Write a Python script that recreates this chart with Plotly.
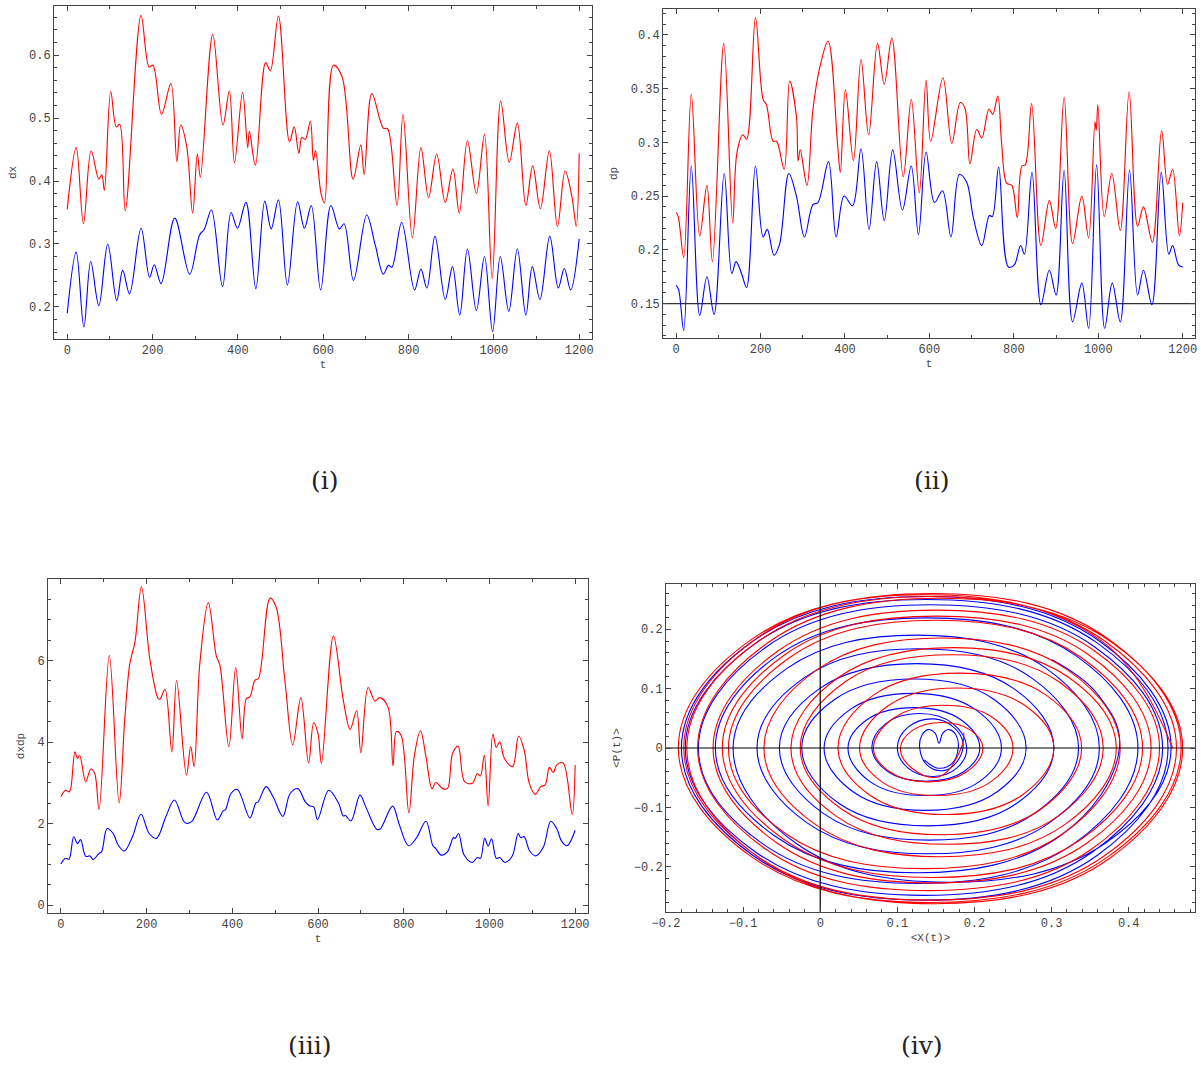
import plotly.graph_objects as go

W, H = 1201, 1066

# ---------------- data: panel (i) dx ----------------
t_dx_red = [0, 21, 38, 56, 74, 81, 87, 102, 115, 123, 136, 173, 192, 201, 221, 243, 257, 266, 280, 294,
            305, 312, 341, 365, 380, 392, 411, 423, 427, 441, 465, 476, 495, 521, 532, 543, 550, 558, 570,
            577, 582, 595, 603, 624, 644, 670, 688, 696, 714, 741, 751, 773, 787, 809, 829, 847, 866, 886,
            904, 919, 938, 959, 978, 996, 1016, 1036, 1055, 1075, 1091, 1109, 1130, 1149, 1167, 1183, 1193, 1200]
dx_red = [0.355, 0.453, 0.332, 0.448, 0.403, 0.410, 0.385, 0.542, 0.486, 0.490, 0.353, 0.663, 0.581, 0.584,
          0.506, 0.555, 0.431, 0.489, 0.455, 0.349, 0.443, 0.406, 0.633, 0.489, 0.543, 0.429, 0.541, 0.453,
          0.479, 0.425, 0.588, 0.575, 0.662, 0.462, 0.486, 0.444, 0.469, 0.466, 0.495, 0.433, 0.448, 0.380,
          0.365, 0.584, 0.566, 0.403, 0.457, 0.410, 0.539, 0.484, 0.483, 0.361, 0.506, 0.310, 0.453, 0.374,
          0.443, 0.366, 0.419, 0.349, 0.464, 0.380, 0.474, 0.245, 0.527, 0.430, 0.492, 0.361, 0.424, 0.356,
          0.448, 0.328, 0.416, 0.375, 0.328, 0.444]
t_dx_blue = [0, 21, 39, 55, 74, 95, 116, 130, 146, 173, 193, 204, 220, 252, 287, 310, 321, 338, 364, 384,
             399, 419, 442, 463, 478, 495, 516, 540, 556, 572, 594, 618, 638, 649, 671, 702, 722, 741, 753,
             761, 784, 814, 829, 843, 862, 886, 903, 920, 938, 959, 978, 997, 1015, 1035, 1055, 1075, 1090,
             1108, 1131, 1151, 1165, 1180, 1200]
dx_blue = [0.190, 0.287, 0.168, 0.272, 0.202, 0.300, 0.210, 0.258, 0.221, 0.325, 0.247, 0.267, 0.237, 0.341,
           0.252, 0.314, 0.323, 0.354, 0.232, 0.350, 0.325, 0.366, 0.229, 0.368, 0.324, 0.370, 0.235, 0.367,
           0.325, 0.361, 0.227, 0.361, 0.324, 0.332, 0.242, 0.346, 0.298, 0.252, 0.266, 0.263, 0.334, 0.227,
           0.260, 0.230, 0.312, 0.212, 0.264, 0.187, 0.292, 0.194, 0.280, 0.161, 0.280, 0.193, 0.292, 0.187,
           0.264, 0.212, 0.312, 0.230, 0.261, 0.227, 0.308]

# ---------------- data: panel (ii) dp ----------------
t_dp_red = [0, 5, 18, 36, 56, 73, 86, 113, 134, 144, 158, 167, 188, 206, 214, 230, 238, 256, 269, 285, 289,
            294, 310, 324, 340, 360, 383, 389, 401, 420, 438, 456, 477, 493, 511, 538, 557, 576, 592, 603, 632,
            653, 673, 684, 696, 712, 724, 741, 750, 762, 771, 783, 795, 808, 819, 827, 842, 864, 884, 899, 919,
            939, 961, 977, 992, 995, 999, 1014, 1032, 1052, 1073, 1093, 1107, 1128, 1150, 1164, 1176, 1192, 1200]
dp_red = [0.235, 0.231, 0.193, 0.345, 0.213, 0.260, 0.189, 0.392, 0.225, 0.290, 0.307, 0.303, 0.416, 0.340,
          0.335, 0.301, 0.301, 0.275, 0.357, 0.324, 0.283, 0.293, 0.260, 0.330, 0.369, 0.394, 0.295, 0.272,
          0.349, 0.283, 0.377, 0.307, 0.392, 0.354, 0.397, 0.268, 0.340, 0.253, 0.358, 0.301, 0.360, 0.299,
          0.337, 0.332, 0.280, 0.312, 0.304, 0.331, 0.326, 0.343, 0.299, 0.262, 0.260, 0.230, 0.278, 0.279,
          0.336, 0.204, 0.246, 0.220, 0.342, 0.206, 0.250, 0.211, 0.319, 0.311, 0.335, 0.231, 0.271, 0.218,
          0.347, 0.222, 0.240, 0.207, 0.311, 0.261, 0.275, 0.213, 0.244]
t_dp_blue = [0, 6, 18, 36, 56, 73, 90, 114, 132, 142, 155, 167, 188, 206, 216, 232, 245, 267, 285, 304, 324,
             336, 361, 379, 398, 418, 438, 457, 475, 493, 513, 536, 557, 574, 592, 612, 631, 651, 671, 688, 704,
             724, 742, 749, 764, 787, 801, 816, 825, 843, 864, 884, 900, 919, 939, 961, 977, 996, 1015, 1033,
             1052, 1074, 1093, 1107, 1127, 1149, 1167, 1176, 1190, 1200]
dp_blue = [0.167, 0.163, 0.125, 0.278, 0.139, 0.175, 0.140, 0.271, 0.178, 0.189, 0.178, 0.165, 0.278, 0.212,
           0.219, 0.195, 0.205, 0.271, 0.250, 0.212, 0.242, 0.244, 0.282, 0.212, 0.250, 0.241, 0.294, 0.219,
           0.282, 0.227, 0.293, 0.237, 0.278, 0.214, 0.291, 0.244, 0.255, 0.212, 0.270, 0.263, 0.230, 0.204,
           0.232, 0.231, 0.277, 0.184, 0.186, 0.204, 0.196, 0.272, 0.149, 0.181, 0.158, 0.274, 0.133, 0.169,
           0.127, 0.279, 0.127, 0.169, 0.133, 0.274, 0.158, 0.181, 0.149, 0.272, 0.196, 0.204, 0.186, 0.184]
dp_ref = [0.15]

# ---------------- data: panel (iii) dxdp ----------------
t_dxdp_red = [0, 11, 19, 23, 33, 39, 44, 58, 70, 79, 89, 113, 136, 149, 161, 173, 188, 208, 227, 231, 243,
              259, 270, 293, 303, 311, 324, 344, 363, 371, 392, 408, 423, 433, 441, 453, 461, 488, 502, 523,
              541, 560, 578, 590, 600, 608, 636, 659, 675, 690, 700, 717, 733, 744, 763, 775, 783, 794, 812,
              825, 839, 852, 866, 875, 891, 902, 914, 927, 942, 960, 972, 979, 988, 997, 1008, 1016, 1024,
              1035, 1054, 1068, 1081, 1093, 1107, 1120, 1130, 1140, 1149, 1157, 1172, 1193, 1200]
dxdp_red = [2.66, 2.82, 2.78, 2.86, 3.76, 3.60, 3.67, 3.03, 3.34, 3.23, 2.35, 6.12, 2.51, 4.54, 5.93, 6.46,
            7.81, 6.01, 5.07, 5.05, 5.29, 3.76, 5.51, 3.19, 3.89, 3.40, 5.89, 7.42, 6.10, 5.89, 3.89, 5.83,
            4.08, 5.07, 5.11, 5.52, 5.56, 7.53, 7.32, 5.48, 3.93, 5.09, 3.49, 4.48, 4.21, 3.48, 6.60, 5.03,
            4.31, 4.77, 3.74, 5.34, 5.01, 5.09, 4.87, 3.42, 4.26, 4.16, 2.27, 3.68, 4.28, 3.64, 2.86, 3.01,
            2.86, 2.86, 3.72, 3.90, 3.03, 2.99, 3.23, 3.17, 3.68, 2.43, 4.20, 3.87, 4.01, 3.60, 3.40, 4.15,
            3.81, 2.99, 2.72, 2.91, 2.95, 3.38, 3.25, 3.44, 3.49, 2.23, 3.44]
t_dxdp_blue = [0, 11, 19, 30, 39, 46, 58, 68, 75, 89, 95, 108, 122, 134, 148, 167, 187, 206, 223, 245, 265,
               290, 305, 340, 365, 379, 384, 397, 412, 441, 455, 460, 479, 496, 518, 535, 553, 570, 580, 590,
               599, 625, 648, 659, 664, 677, 698, 712, 737, 745, 774, 789, 811, 829, 852, 868, 875, 887, 902,
               916, 920, 928, 941, 960, 972, 979, 989, 997, 1005, 1016, 1024, 1036, 1053, 1067, 1073, 1081,
               1094, 1108, 1126, 1143, 1157, 1168, 1181, 1200]
dxdp_blue = [1.01, 1.15, 1.13, 1.68, 1.51, 1.61, 1.20, 1.21, 1.12, 1.27, 1.31, 1.88, 1.76, 1.47, 1.33, 1.68,
             2.23, 1.76, 1.64, 2.17, 2.58, 2.02, 2.05, 2.77, 2.09, 2.32, 2.34, 2.74, 2.84, 2.14, 2.51, 2.53,
             2.91, 2.64, 2.18, 2.74, 2.86, 2.54, 2.44, 2.41, 2.10, 2.82, 2.50, 2.19, 2.20, 2.07, 2.70, 2.40,
             1.86, 1.87, 2.43, 2.00, 1.46, 1.64, 2.06, 1.46, 1.39, 1.23, 1.31, 1.66, 1.64, 1.76, 1.23, 1.05,
             1.17, 1.15, 1.64, 1.45, 1.63, 1.15, 1.17, 1.05, 1.20, 1.76, 1.66, 1.68, 1.33, 1.21, 1.43, 2.06,
             1.88, 1.58, 1.46, 1.84]

# ---------------- data: panel (iv) phase portrait, points read along the loops ----------------
X_blue = [0.300, 0.360, 0.388, 0.311, 0.126, -0.059, -0.136, -0.056, 0.138, 0.332, 0.412, 0.329, 0.127,
          -0.075, -0.158, -0.070, 0.143, 0.356, 0.444, 0.353, 0.135, -0.084, -0.175, -0.083, 0.138, 0.359,
          0.451, 0.359, 0.136, -0.087, -0.180, -0.087, 0.138, 0.362, 0.455, 0.370, 0.165, -0.032, -0.113,
          -0.043, 0.125, 0.293, 0.362, 0.297, 0.140, -0.017, -0.082, -0.021, 0.127, 0.274, 0.335, 0.278,
          0.141, 0.004, -0.053, -0.001, 0.125, 0.251, 0.303, 0.255, 0.140, 0.024, -0.024, 0.019, 0.122,
          0.225, 0.267, 0.229, 0.136, 0.043, 0.005, 0.039, 0.120, 0.201, 0.235, 0.206, 0.136, 0.065, 0.036,
          0.061, 0.122, 0.182, 0.207, 0.186, 0.137, 0.088, 0.067, 0.085, 0.128, 0.172, 0.190, 0.177, 0.147,
          0.114, 0.100, 0.114, 0.148, 0.172, 0.185, 0.178, 0.160, 0.138, 0.129, 0.132, 0.140, 0.149, 0.154,
          0.159, 0.167, 0.176, 0.179, 0.171, 0.153, 0.135]
P_blue = [0.149, 0.090, 0.000, -0.148, -0.210, -0.148, 0.000, 0.155, 0.219, 0.155, 0.000, -0.161, -0.228,
          -0.161, 0.000, 0.170, 0.241, 0.170, 0.000, -0.175, -0.248, -0.175, 0.000, 0.177, 0.250, 0.177,
          0.000, -0.181, -0.256, -0.181, 0.000, 0.180, 0.255, 0.180, 0.000, -0.160, -0.226, -0.160, 0.000,
          0.134, 0.190, 0.134, 0.000, -0.126, -0.178, -0.126, 0.000, 0.118, 0.167, 0.118, 0.000, -0.110,
          -0.155, -0.110, 0.000, 0.100, 0.142, 0.100, 0.000, -0.093, -0.131, -0.093, 0.000, 0.082, 0.116,
          0.082, 0.000, -0.074, -0.105, -0.074, 0.000, 0.065, 0.092, 0.065, 0.000, -0.057, -0.080, -0.057,
          0.000, 0.048, 0.068, 0.048, 0.000, -0.040, -0.056, -0.040, 0.000, 0.041, 0.058, 0.041, 0.000,
          -0.034, -0.048, -0.034, 0.000, 0.035, 0.049, 0.036, 0.010, -0.022, -0.038, -0.028, 0.000, 0.022,
          0.031, 0.025, 0.008, 0.025, 0.031, 0.022, 0.000, -0.026, -0.034, -0.020]
X_red = [0.186, 0.184, 0.155, 0.119, 0.104, 0.120, 0.158, 0.195, 0.211, 0.190, 0.140, 0.090, 0.069, 0.096,
         0.160, 0.224, 0.250, 0.221, 0.150, 0.080, 0.051, 0.088, 0.177, 0.266, 0.303, 0.262, 0.163, 0.064,
         0.023, 0.069, 0.181, 0.293, 0.339, 0.286, 0.157, 0.028, -0.026, 0.032, 0.171, 0.310, 0.367, 0.308,
         0.165, 0.021, -0.038, 0.024, 0.173, 0.322, 0.384, 0.317, 0.156, -0.006, -0.073, -0.005, 0.158,
         0.321, 0.389, 0.315, 0.135, -0.045, -0.119, -0.040, 0.150, 0.339, 0.418, 0.338, 0.146, -0.047,
         -0.127, -0.046, 0.151, 0.348, 0.429, 0.346, 0.145, -0.056, -0.139, -0.054, 0.151, 0.355, 0.440,
         0.352, 0.140, -0.071, -0.159, -0.067, 0.156, 0.378, 0.470, 0.376, 0.149, -0.079, -0.173, -0.080,
         0.146, 0.369, 0.462, 0.369, 0.143, -0.083, -0.177, -0.083, 0.145, 0.373, 0.468, 0.372, 0.142,
         -0.088, -0.184, -0.090, 0.137, 0.363, 0.457]
P_red = [0.026, 0.004, -0.048, -0.034, 0.000, 0.030, 0.043, 0.030, 0.000, -0.040, -0.057, -0.040, 0.000,
         0.051, 0.072, 0.051, 0.000, -0.057, -0.080, -0.057, 0.000, 0.071, 0.101, 0.071, 0.000, -0.079,
         -0.112, -0.079, 0.000, 0.089, 0.126, 0.089, 0.000, -0.103, -0.146, -0.103, 0.000, 0.111, 0.157,
         0.111, 0.000, -0.115, -0.162, -0.115, 0.000, 0.119, 0.169, 0.119, 0.000, -0.129, -0.183, -0.129,
         0.000, 0.131, 0.185, 0.131, 0.000, -0.144, -0.203, -0.144, 0.000, 0.152, 0.215, 0.152, 0.000,
         -0.154, -0.218, -0.154, 0.000, 0.157, 0.222, 0.157, 0.000, -0.160, -0.227, -0.160, 0.000, 0.164,
         0.232, 0.164, 0.000, -0.170, -0.240, -0.170, 0.000, 0.178, 0.252, 0.178, 0.000, -0.185, -0.262,
         -0.185, 0.000, 0.180, 0.255, 0.180, 0.000, -0.181, -0.256, -0.181, 0.000, 0.184, 0.260, 0.184,
         0.000, -0.184, -0.260, -0.184, 0.000, 0.182, 0.258, 0.182, 0.000]

# tick values
t_ticks = [0, 200, 400, 600, 800, 1000, 1200]
dx_ticks = [0.2, 0.3, 0.4, 0.5, 0.6]
dp_ticks = [0.15, 0.2, 0.25, 0.3, 0.35, 0.4]
dxdp_ticks = [0, 2, 4, 6]
X_ticks = [-0.2, -0.1, 0, 0.1, 0.2, 0.3, 0.4]
P_ticks = [-0.2, -0.1, 0, 0.1, 0.2]

RED = "#ff0000"
BLUE = "#0000ff"
AX = "#444444"
MONO = "Liberation Mono, DejaVu Sans Mono, monospace"

fig = go.Figure()


def line(x, y, color, xa, ya, shape="spline", smoothing=1.0, width=1.1):
    fig.add_trace(go.Scatter(x=x, y=y, mode="lines",
                             line=dict(color=color, width=width, shape=shape, smoothing=smoothing),
                             xaxis=xa, yaxis=ya, hoverinfo="skip", showlegend=False))


line(t_dx_red, dx_red, RED, "x", "y")
line(t_dx_blue, dx_blue, BLUE, "x", "y")
line([-31, 1229], dp_ref * 2, "#333333", "x2", "y2", "linear", width=1.3)
line(t_dp_red, dp_red, RED, "x2", "y2")
line(t_dp_blue, dp_blue, BLUE, "x2", "y2")
line(t_dxdp_red, dxdp_red, RED, "x3", "y3")
line(t_dxdp_blue, dxdp_blue, BLUE, "x3", "y3")
line(X_blue, P_blue, BLUE, "x4", "y4", smoothing=1.15)
line(X_red, P_red, RED, "x4", "y4", smoothing=1.15)
# coordinate axes in the phase portrait
line([0, 0], [-0.276, 0.276], "#000000", "x4", "y4", "linear", width=1.2)
line([-0.2, 0.486], [0, 0], "#000000", "x4", "y4", "linear", width=1.2)


def dom_x(a, b):
    return [a / W, b / W]


def dom_y(top, bottom):
    return [1 - bottom / H, 1 - top / H]


def axis(dom, rng, tickvals, ticktext, minor_dtick, title, anchor, standoff):
    return dict(domain=dom, range=rng, tickvals=tickvals, ticktext=ticktext, showline=True, mirror="ticks",
                linecolor=AX, linewidth=1, ticks="inside", ticklen=5, tickcolor=AX, tickwidth=1,
                minor=dict(ticks="inside", ticklen=3, dtick=minor_dtick, tickcolor=AX, showgrid=False),
                showgrid=False, zeroline=False, anchor=anchor, automargin=False,
                tickfont=dict(family=MONO, size=12, color=AX),
                title=dict(text=title, font=dict(family=MONO, size=11, color=AX), standoff=standoff))


def fmt(v):
    return ("%g" % v).replace("-", "\u2212")


tt = [str(v) for v in t_ticks]
fig.update_layout(
    width=W, height=H, margin=dict(l=0, r=0, t=0, b=0, autoexpand=False),
    paper_bgcolor="white", plot_bgcolor="white",
    xaxis=axis(dom_x(54, 592), [-31, 1230], t_ticks, tt, 100, "t", "y", 2),
    yaxis=axis(dom_y(6, 339), [0.149, 0.678], dx_ticks, [fmt(v) for v in dx_ticks], 0.02, "dx", "x", 10),
    xaxis2=axis(dom_x(663, 1195), [-31, 1229], t_ticks, tt, 100, "t", "y2", 2),
    yaxis2=axis(dom_y(9, 338), [0.118, 0.424], dp_ticks, [fmt(v) for v in dp_ticks], 0.01, "dp", "x2", 10),
    xaxis3=axis(dom_x(48, 588), [-30, 1230], t_ticks, tt, 100, "t", "y3", 2),
    yaxis3=axis(dom_y(579, 913), [-0.19, 8.0], dxdp_ticks, [fmt(v) for v in dxdp_ticks], 0.5, "dxdp", "x3", 10),
    xaxis4=axis(dom_x(666, 1195), [-0.2, 0.486], X_ticks, [fmt(v) for v in X_ticks], 0.02, "<X(t)>", "y4", 2),
    yaxis4=axis(dom_y(584, 912), [-0.276, 0.276], P_ticks, [fmt(v) for v in P_ticks], 0.02, "<P(t)>", "x4", 10),
)

labels = [("(i)", 325, 480), ("(ii)", 932, 480), ("(iii)", 310, 1045), ("(iv)", 922, 1045)]
for txt, px, py in labels:
    fig.add_annotation(text=txt, x=px / W, y=1 - py / H, xref="paper", yref="paper", showarrow=False,
                       font=dict(family="DejaVu Serif, Liberation Serif, serif", size=25, color="#222222"),
                       xanchor="center", yanchor="middle")

fig.write_html("out.html")
